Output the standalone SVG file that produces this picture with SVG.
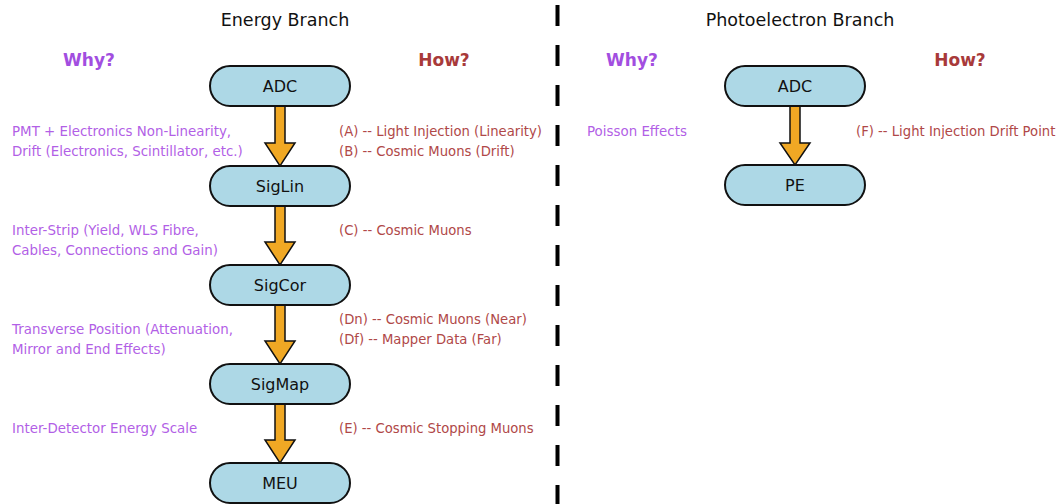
<svg xmlns="http://www.w3.org/2000/svg" width="1061" height="504" viewBox="0 0 1061 504">
<style>
.title{font-family:"DejaVu Sans",sans-serif;font-size:17.5px;fill:#111;text-anchor:middle}
.why{font-family:"DejaVu Sans",sans-serif;font-size:17px;font-weight:bold;fill:#a24ee0;text-anchor:middle}
.how{font-family:"DejaVu Sans",sans-serif;font-size:17px;font-weight:bold;fill:#a83a3a;text-anchor:middle}
.lw{font-family:"DejaVu Sans",sans-serif;font-size:13.4px;fill:#b25fe6}
.rh{font-family:"DejaVu Sans",sans-serif;font-size:13.2px;fill:#b04848}
.box{fill:#add8e6;stroke:#111;stroke-width:2}
.lbl{font-family:"DejaVu Sans",sans-serif;font-size:16px;fill:#111;text-anchor:middle}
.arr{fill:#f0a824;stroke:#111;stroke-width:1.5;stroke-linejoin:miter}
</style>
<rect width="1061" height="504" fill="#fff"/>
<line x1="557.5" y1="5" x2="557.5" y2="504" stroke="#000" stroke-width="4" stroke-dasharray="21 19"/>
<text class="title" x="285" y="26">Energy Branch</text>
<text class="title" x="800" y="26">Photoelectron Branch</text>
<text class="why" x="89" y="66">Why?</text>
<text class="how" x="444" y="66">How?</text>
<text class="why" x="632" y="66">Why?</text>
<text class="how" x="960" y="66">How?</text>
<g id="connectors">
<polygon class="arr" points="275,106 285,106 285,143 295,143 280,166 265,143 275,143"/>
<polygon class="arr" points="275,205 285,205 285,242 295,242 280,265 265,242 275,242"/>
<polygon class="arr" points="275,304 285,304 285,341 295,341 280,364 265,341 275,341"/>
<polygon class="arr" points="275,403 285,403 285,440 295,440 280,463 265,440 275,440"/>
<polygon class="arr" points="790,106 800,106 800,143 810,143 795,165 780,143 790,143"/>
</g>
<g id="adc"><rect class="box" x="210" y="66" width="140" height="40" rx="20"/><text class="lbl" x="280" y="92">ADC</text></g>
<g id="siglin"><rect class="box" x="210" y="166" width="140" height="40" rx="20"/><text class="lbl" x="280" y="192">SigLin</text></g>
<g id="sigcor"><rect class="box" x="210" y="265" width="140" height="40" rx="20"/><text class="lbl" x="280" y="291">SigCor</text></g>
<g id="sigmap"><rect class="box" x="210" y="364" width="140" height="40" rx="20"/><text class="lbl" x="280" y="390">SigMap</text></g>
<g id="meu"><rect class="box" x="210" y="463" width="140" height="40" rx="20"/><text class="lbl" x="280" y="489">MEU</text></g>
<g id="adc2"><rect class="box" x="725" y="66" width="140" height="40" rx="20"/><text class="lbl" x="795" y="92">ADC</text></g>
<g id="pe"><rect class="box" x="725" y="165" width="140" height="40" rx="20"/><text class="lbl" x="795" y="191">PE</text></g>
<g id="why-texts">
<text class="lw" x="12" y="136">PMT + Electronics Non-Linearity,</text>
<text class="lw" x="12" y="156">Drift (Electronics, Scintillator, etc.)</text>
<text class="lw" x="12" y="235">Inter-Strip (Yield, WLS Fibre,</text>
<text class="lw" x="12" y="255">Cables, Connections and Gain)</text>
<text class="lw" x="12" y="334">Transverse Position (Attenuation,</text>
<text class="lw" x="12" y="354">Mirror and End Effects)</text>
<text class="lw" x="12" y="433">Inter-Detector Energy Scale</text>
<text class="lw" x="587" y="136">Poisson Effects</text>
</g>
<g id="how-texts">
<text class="rh" x="339" y="136">(A) -- Light Injection (Linearity)</text>
<text class="rh" x="339" y="156">(B) -- Cosmic Muons (Drift)</text>
<text class="rh" x="339" y="235">(C) -- Cosmic Muons</text>
<text class="rh" x="339" y="324">(Dn) -- Cosmic Muons (Near)</text>
<text class="rh" x="339" y="344">(Df) -- Mapper Data (Far)</text>
<text class="rh" x="339" y="433">(E) -- Cosmic Stopping Muons</text>
<text class="rh" x="856" y="136">(F) -- Light Injection Drift Point</text>
</g>
</svg>
